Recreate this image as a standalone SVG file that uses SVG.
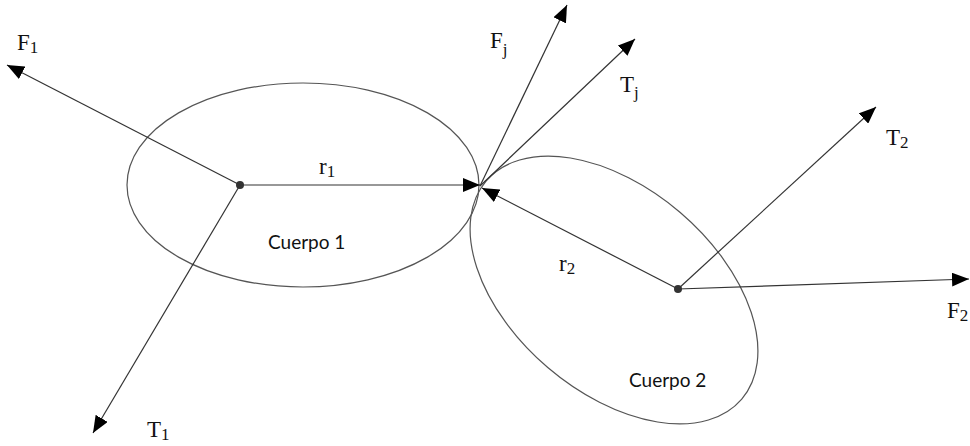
<svg xmlns="http://www.w3.org/2000/svg" width="970" height="446" viewBox="0 0 970 446">
<style>
.body{fill:none;stroke:#555;stroke-width:1.2}
.vec{stroke:#333;stroke-width:1.2;fill:none;marker-end:url(#ah)}
.lbl{font-family:"Liberation Serif","DejaVu Serif",serif;font-size:23px;fill:#111}
.sub{font-size:17px}
.name{font-family:Lato,"Liberation Sans",sans-serif;font-size:19px;fill:#111}
.dot{fill:#333}
</style>
<defs>
<marker id="ah" markerWidth="18" markerHeight="14" refX="17" refY="7" orient="auto" markerUnits="userSpaceOnUse">
<path d="M0,0 L17,7 L0,14 Z" fill="#000"/>
</marker>
</defs>
<g id="body1">
<ellipse class="body" cx="303" cy="185" rx="176" ry="102"/>
<circle class="dot" cx="240" cy="185" r="4"/>
<text class="name" x="268" y="249">Cuerpo 1</text>
</g>
<g id="body2">
<ellipse class="body" cx="614" cy="290" rx="168" ry="102" transform="rotate(40.5 614 290)"/>
<circle class="dot" cx="678" cy="289" r="4"/>
<text class="name" x="629" y="387">Cuerpo 2</text>
</g>
<g id="connectors">
<line class="vec" x1="240" y1="185" x2="480" y2="185"/>
<line class="vec" x1="678" y1="289" x2="482" y2="188"/>
<line class="vec" x1="240" y1="185" x2="7" y2="65"/>
<line class="vec" x1="240" y1="185" x2="93" y2="433"/>
<line class="vec" x1="480" y1="186" x2="567" y2="5"/>
<line class="vec" x1="480" y1="186" x2="635" y2="39"/>
<line class="vec" x1="678" y1="289" x2="876" y2="107"/>
<line class="vec" x1="678" y1="289" x2="969" y2="279"/>
</g>
<g id="labels">
<text class="lbl" x="17" y="50">F<tspan class="sub" dy="3">1</tspan></text>
<text class="lbl" x="490" y="48">F<tspan class="sub" font-size="14" dy="7">j</tspan></text>
<text class="lbl" x="620" y="92">T<tspan class="sub" font-size="14" dy="6">j</tspan></text>
<text class="lbl" x="886" y="145">T<tspan class="sub" dy="3">2</tspan></text>
<text class="lbl" x="947" y="318">F<tspan class="sub" dy="3">2</tspan></text>
<text class="lbl" x="147" y="437">T<tspan class="sub" dy="3">1</tspan></text>
<text class="lbl" x="319" y="174">r<tspan class="sub" dy="3">1</tspan></text>
<text class="lbl" x="559" y="271">r<tspan class="sub" dy="3">2</tspan></text>
</g>
</svg>
